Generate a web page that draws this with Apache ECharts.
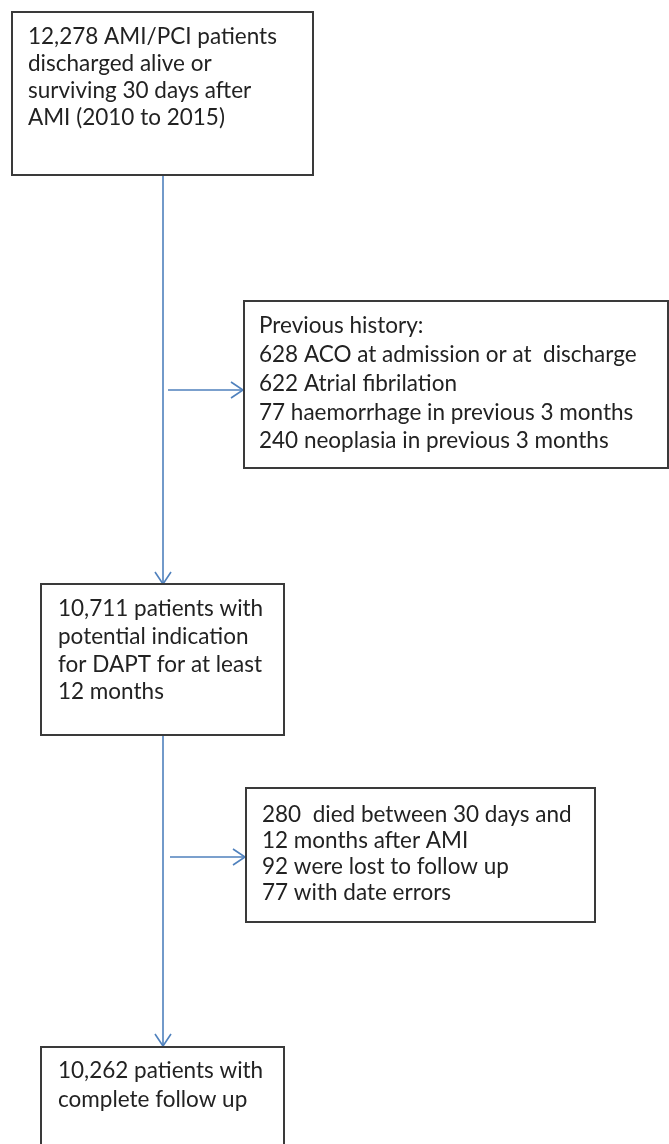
<!DOCTYPE html>
<html>
<head>
<meta charset="utf-8">
<script src="https://cdn.jsdelivr.net/npm/echarts@6/dist/echarts.min.js"></script>
<style>
html,body{margin:0;padding:0;background:#fff;}
#chart{width:669px;height:1144px;}
</style>
</head>
<body>
<div id="chart"></div>
<script>
// ---- Flow content (data) ----
const startLines = ["12,278 AMI/PCI patients", "discharged alive or", "surviving 30 days after", "AMI (2010 to 2015)"];
const exclusion1Lines = ["Previous history:", "628 ACO at admission or at  discharge", "622 Atrial fibrilation", "77 haemorrhage in previous 3 months", "240 neoplasia in previous 3 months"];
const eligibleLines = ["10,711 patients with", "potential indication", "for DAPT for at least", "12 months"];
const exclusion2Lines = ["280  died between 30 days and", "12 months after AMI", "92 were lost to follow up", "77 with date errors"];
const finalLines = ["10,262 patients with", "complete follow up"];

// ---- Layout (pixel space of hidden axes) ----
const W = 669, H = 1144;
const boxLayout = [
  { lines: startLines,      x0: 12,  y0: 12,   x1: 313, y1: 175,  tx: 28,  ty: 37,   lh: 26.9 },
  { lines: exclusion1Lines, x0: 244, y0: 301,  x1: 668, y1: 468,  tx: 259, ty: 326,  lh: 28.8 },
  { lines: eligibleLines,   x0: 41,  y0: 584,  x1: 284, y1: 735,  tx: 58,  ty: 609,  lh: 27.7 },
  { lines: exclusion2Lines, x0: 246, y0: 788,  x1: 595, y1: 922,  tx: 262, ty: 815,  lh: 26 },
  { lines: finalLines,      x0: 41,  y0: 1047, x1: 284, y1: 1160, tx: 58,  ty: 1071, lh: 29 }
];
const arrowLayout = [
  [163, 175, 163, 584],
  [168, 390, 243, 390],
  [163, 735, 163, 1046],
  [170, 857, 245, 857]
];

const FONT = 'Lato, "Open Sans", sans-serif';
const FONT_SIZE = 22.5;

const chart = echarts.init(document.getElementById('chart'), null, { renderer: 'canvas' });

function boxRender(params, api) {
  const b = boxLayout[api.value(0)];
  const p0 = api.coord([b.x0, b.y0]);
  const p1 = api.coord([b.x1, b.y1]);
  const children = [{
    type: 'rect',
    shape: { x: p0[0], y: p0[1], width: p1[0] - p0[0], height: p1[1] - p0[1] },
    style: { fill: '#fff', stroke: '#3a3a3a', lineWidth: 2 }
  }];
  b.lines.forEach((t, i) => {
    const pt = api.coord([b.tx, b.ty + i * b.lh]);
    children.push({
      type: 'text',
      x: pt[0], y: pt[1],
      style: { text: t, fill: '#222222', font: FONT_SIZE + 'px ' + FONT, textAlign: 'left', textVerticalAlign: 'middle' }
    });
  });
  return { type: 'group', children };
}

function arrowRender(params, api) {
  const a = [api.value(0), api.value(1)], b = [api.value(2), api.value(3)];
  const s = api.coord(a), e = api.coord(b);
  const dx = e[0] - s[0], dy = e[1] - s[1];
  const len = Math.sqrt(dx * dx + dy * dy);
  const ux = dx / len, uy = dy / len;
  const hl = 12, hw = 8;
  const bx = e[0] - ux * hl, by = e[1] - uy * hl;
  const style = { stroke: '#4f81bd', lineWidth: 1.6, fill: null };
  return {
    type: 'group',
    children: [
      { type: 'line', shape: { x1: s[0], y1: s[1], x2: e[0], y2: e[1] }, style },
      { type: 'polyline', shape: { points: [[bx - uy * hw, by + ux * hw], [e[0], e[1]], [bx + uy * hw, by - ux * hw]] }, style }
    ]
  };
}

chart.setOption({
  backgroundColor: '#ffffff',
  animation: false,
  grid: { left: 0, right: 0, top: 0, bottom: 0 },
  xAxis: { type: 'value', min: 0, max: W, show: false },
  yAxis: { type: 'value', min: 0, max: H, inverse: true, show: false },
  series: [
    { type: 'custom', renderItem: arrowRender, data: arrowLayout, silent: true, clip: false },
    { type: 'custom', renderItem: boxRender, data: boxLayout.map((b, i) => [i]), silent: true, clip: true }
  ]
});
</script>
</body>
</html>
